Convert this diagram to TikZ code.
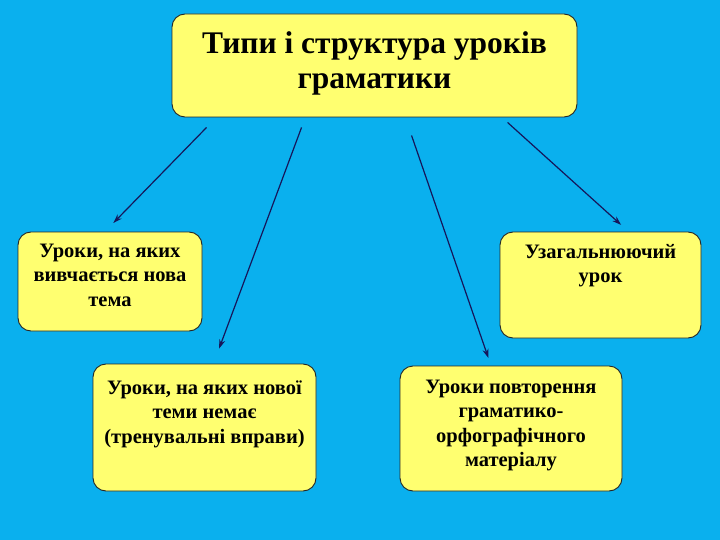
\documentclass[tikz,border=0pt]{standalone}
\usepackage{fontspec}
\setmainfont{Liberation Serif}
\usetikzlibrary{positioning,arrows.meta}
\definecolor{bgblue}{HTML}{0AB0EE}
\definecolor{boxyellow}{HTML}{FFFF70}
\definecolor{arrnavy}{HTML}{16165A}

\begin{document}
\begin{tikzpicture}[
  x=1pt, y=-1pt,
  every node/.style={font=\bfseries},
  box/.style={rectangle,draw=black!85,line width=0.9pt,rounded corners=13pt,fill=boxyellow,inner sep=0pt},
  txt/.style={align=center,inner sep=0pt,anchor=north,font=\bfseries\fontsize{20.5}{24.5}\selectfont},
  arr/.style={-{Stealth[length=9pt,width=6pt]}, line width=1.2pt, arrnavy}
]
\fill[bgblue] (0,0) rectangle (720,540);
\useasboundingbox (0,0) rectangle (720,540);

% boxes
\node[box, minimum width=405pt, minimum height=103pt] (top) at (374.5,65.5) {};
\node[box, minimum width=184pt, minimum height=99pt] (left) at (110,281.5) {};
\node[box, minimum width=201pt, minimum height=106pt] (right) at (600.5,285) {};
\node[box, minimum width=223pt, minimum height=127pt] (botl) at (204.5,427.5) {};
\node[box, minimum width=222pt, minimum height=125pt] (botr) at (511,428.5) {};

% texts
\node[txt, font=\bfseries\fontsize{31.5}{35}\selectfont, below=18pt of top.north] (topT)
  {Типи і структура уроків\\граматики};
\node[txt, below=12pt of left.north] (leftT) {Уроки, на яких\\вивчається нова\\тема};
\node[txt, below=13pt of right.north, font=\bfseries\fontsize{20.5}{23.5}\selectfont] (rightT) {Узагальнюючий\\урок};
\node[txt, below=17pt of botl.north] (botlT) {Уроки, на яких нової\\теми немає\\(тренувальні вправи)};
\node[txt, below=14pt of botr.north] (botrT) {Уроки повторення\\граматико-\\орфографічного\\матеріалу};

% arrow starts under the title box
\coordinate (s1) at ([shift={(35,10)}]top.south west);
\coordinate (s2) at ([shift={(130,10)}]top.south west);
\coordinate (s3) at ([shift={(240,18)}]top.south west);
\coordinate (s4) at ([shift={(336,5)}]top.south west);

\draw[arr, shorten >=12pt] (s1) -- ([xshift=-5pt]left.north);
\draw[arr, shorten >=16pt] (s2) -- ([xshift=9pt]botl.north);
\draw[arr, shorten >=8pt] (s3) -- ([xshift=-20pt]botr.north);
\draw[arr, shorten >=10pt] (s4) -- ([xshift=28pt]right.north);
\end{tikzpicture}
\end{document}
